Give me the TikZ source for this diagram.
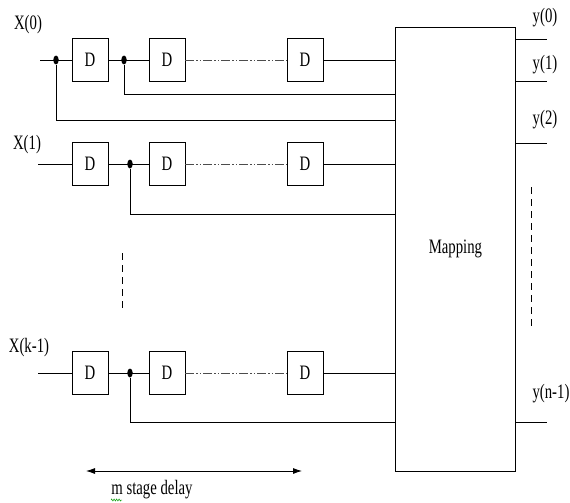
\documentclass[tikz,border=0pt]{standalone}
\usepackage{fontspec}
\setmainfont{Liberation Serif}[FakeStretch=0.72]
\usetikzlibrary{arrows.meta,shapes.geometric,decorations.pathmorphing}
\tikzset{
  dbox/.style={draw,fill=white,minimum width=36pt,minimum height=43pt,inner sep=0pt},
  jdot/.style={ellipse,fill,inner sep=0pt,minimum width=5.5pt,minimum height=9pt},
  chain/.style={gray!60!black,dash pattern=on 9pt off 2pt on 1.5pt off 2pt on 1.5pt off 2pt},
  vdash/.style={dash pattern=on 7pt off 5pt}
}
\begin{document}
\begin{tikzpicture}[x=1pt,y=-1pt,font=\fontsize{20.5}{24}\selectfont,line width=.8pt]
\useasboundingbox (0,0) rectangle (570,503);
\node[draw,minimum width=120pt,minimum height=444pt,anchor=north west] (map) at (395,27) {Mapping};
% row X(0)
\node (x0) at (28,25) {X(0)};\coordinate (in0) at (40,60);
\node[dbox] (d01) at (90,60) {D};\node[dbox] (d02) at (167,60) {D};\node[dbox] (d03) at (305,60) {D};
\draw (in0) -- (d01) (d01) -- (d02);\draw[chain] (d02) -- (d03);\draw (d03) -- (d03 -| map.west);
\node[jdot] (j01) at (56,60) {};\node[jdot] (j02) at (124,60) {};
\coordinate (t01) at (395,120);\coordinate (t02) at (395,94);
\draw (j01) |- (t01);\draw (j02) |- (t02);
% row X(1)
\node (x1) at (27,145) {X(1)};\coordinate (in1) at (38,164);
\node[dbox] (d11) at (90,164) {D};\node[dbox] (d12) at (167,164) {D};\node[dbox] (d13) at (305,164) {D};
\draw (in1) -- (d11) (d11) -- (d12);\draw[chain] (d12) -- (d13);\draw (d13) -- (d13 -| map.west);
\node[jdot] (j11) at (130,164) {};\coordinate (t11) at (395,214);
\draw (j11) |- (t11);
% row X(k-1)
\node (xk) at (29,348) {X(k-1)};\coordinate (ink) at (38,373);
\node[dbox] (dk1) at (90,373) {D};\node[dbox] (dk2) at (167,373) {D};\node[dbox] (dk3) at (305,373) {D};
\draw (ink) -- (dk1) (dk1) -- (dk2);\draw[chain] (dk2) -- (dk3);\draw (dk3) -- (dk3 -| map.west);
\node[jdot] (jk1) at (130,373) {};\coordinate (tk1) at (395,422);
\draw (jk1) |- (tk1);
\draw[vdash] (122,253) -- (122,310);
% outputs
\coordinate (o0) at (547,39);\coordinate (o1) at (547,81);\coordinate (o2) at (547,143);\coordinate (on) at (547,422);
\draw (map.east |- o0) -- (o0) (map.east |- o1) -- (o1) (map.east |- o2) -- (o2) (map.east |- on) -- (on);
\node (y0) at (545,18) {y(0)};\node (y1) at (545,65) {y(1)};\node (y2) at (545,120) {y(2)};\node (yn) at (551,394) {y(n-1)};
\draw[vdash] (531,187) -- (531,328);
% delay span
\coordinate (a1) at (86,471);\coordinate (a2) at (302,471);
\draw[{Latex[length=9pt,width=6pt]}-{Latex[length=9pt,width=6pt]}] (a1) -- (a2);
\node (md) at (152,490) {m stage delay};
\draw[green!60!black,line width=.5pt,decorate,decoration={zigzag,segment length=2.5pt,amplitude=1pt}] (111,500) -- (122,500);
\end{tikzpicture}
\end{document}
